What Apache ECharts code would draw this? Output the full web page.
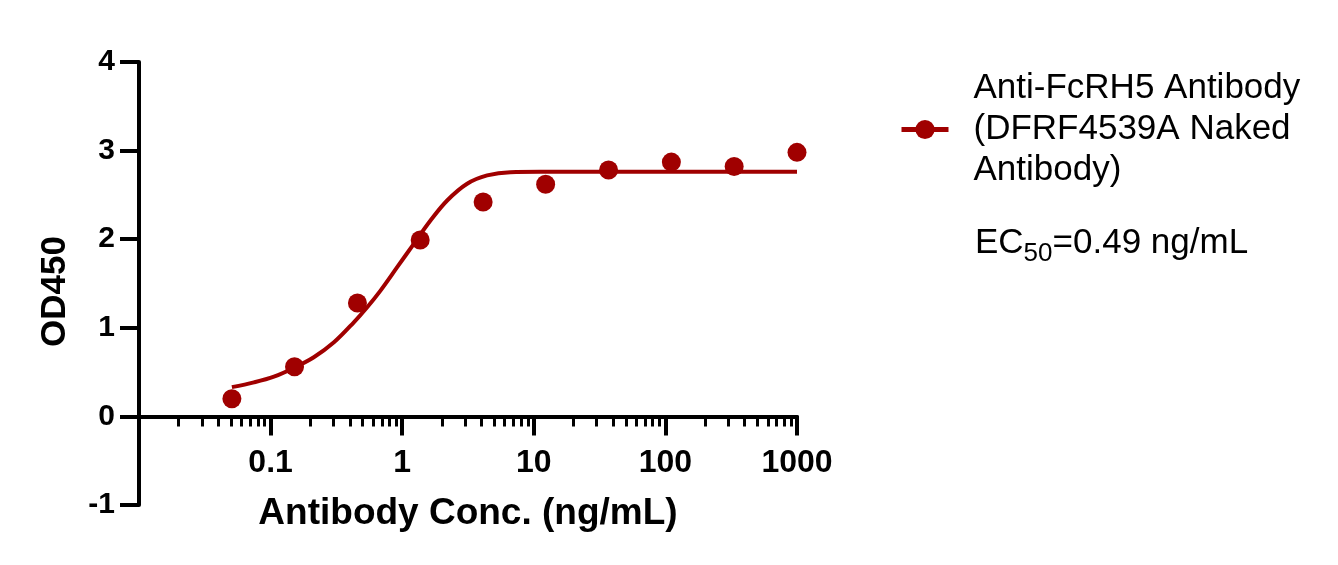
<!DOCTYPE html>
<html><head><meta charset="utf-8">
<script src="https://cdn.jsdelivr.net/npm/echarts@6/dist/echarts.min.js"></script>
<style>html,body{margin:0;padding:0;background:#fff}#c{width:1338px;height:565px}</style>
</head><body><div id="c"></div>
<script>
// measured data points (3-fold dilutions)
const concentrations = [0.0508, 0.152, 0.457, 1.37, 4.12, 12.3, 37.0, 111, 333, 1000];
const od450 = [0.20, 0.56, 1.28, 1.99, 2.42, 2.62, 2.78, 2.87, 2.82, 2.98];
// fitted curve, points
const fitConc = [0.0508, 0.0747, 0.106, 0.150, 0.213, 0.303, 0.429, 0.542, 0.684, 0.916, 1.225, 1.64, 2.196, 3.115, 4.42, 6.64, 11.2, 30, 100, 1000];
const fitOD = [0.33, 0.384, 0.449, 0.547, 0.667, 0.836, 1.062, 1.232, 1.42, 1.684, 1.948, 2.211, 2.437, 2.626, 2.72, 2.757, 2.76, 2.76, 2.76, 2.76];
// axis ticks
const majorTicks = [0.1, 1, 10, 100, 1000];
const minorTicks = [0.02,0.03,0.04,0.05,0.06,0.07,0.08,0.09,
  0.2,0.3,0.4,0.5,0.6,0.7,0.8,0.9, 2,3,4,5,6,7,8,9,
  20,30,40,50,60,70,80,90, 200,300,400,500,600,700,800,900];
const xTickLabels = ['0.1', '1', '10', '100', '1000'];
const legendLines = ['Anti-FcRH5 Antibody', '(DFRF4539A Naked', 'Antibody)'];
const ec50Parts = ['EC', '50', '=0.49 ng/mL'];
const xTitle = 'Antibody Conc. (ng/mL)';
const yTitle = 'OD450';

const RED = '#A00000';
const FONT = 'Liberation Sans';
const seriesName = legendLines.join(' ');

// text measurement for the EC50 annotation (subscript placement)
const mctx = document.createElement('canvas').getContext('2d');
function textW(t, size) { mctx.font = size + 'px "' + FONT + '"'; return mctx.measureText(t).width; }
const ecX = 975, mainSize = 35, subSize = 26;
const w0 = textW(ec50Parts[0], mainSize), w1 = textW(ec50Parts[1], subSize);

const chart = echarts.init(document.getElementById('c'), null, {renderer: 'canvas'});
chart.setOption({
  animation: false,
  backgroundColor: '#fff',
  textStyle: {fontFamily: FONT, color: '#000'},
  grid: {left: 139, right: 541, top: 62, bottom: 60, containLabel: false, outerBoundsMode: 'none'},
  legend: {
    data: [seriesName], left: 899, top: 68, padding: 0,
    itemWidth: 47, itemHeight: 24, selectedMode: false,
    lineStyle: {width: 5, color: RED},
    formatter: () => legendLines.join('\n'),
    textStyle: {fontFamily: FONT, fontSize: 35, lineHeight: 41, color: '#000', padding: [0, 0, 0, 20]}
  },
  graphic: [
    {type: 'text', x: ecX, y: 243, style: {text: ec50Parts[0], fontFamily: FONT, fontSize: mainSize, fill: '#000', align: 'left', verticalAlign: 'middle'}},
    {type: 'text', x: ecX + w0, y: 254, style: {text: ec50Parts[1], fontFamily: FONT, fontSize: subSize, fill: '#000', align: 'left', verticalAlign: 'middle'}},
    {type: 'text', x: ecX + w0 + w1, y: 243, style: {text: ec50Parts[2], fontFamily: FONT, fontSize: mainSize, fill: '#000', align: 'left', verticalAlign: 'middle'}}
  ],
  xAxis: [{
    type: 'log', logBase: 10, min: 0.01, max: 1000, position: 'bottom',
    axisLine: {show: true, onZero: true, onZeroAxisIndex: 0, lineStyle: {color: '#000', width: 4}},
    axisTick: {show: true, length: 19, customValues: majorTicks, lineStyle: {color: '#000', width: 4}},
    axisLabel: {
      customValues: majorTicks,
      formatter: v => { const i = majorTicks.findIndex(t => Math.abs(Math.log10(t) - Math.log10(v)) < 1e-6); return i >= 0 ? xTickLabels[i] : ''; },
      fontFamily: FONT, fontSize: 32, fontWeight: 'bold', color: '#000', margin: -58
    },
    splitLine: {show: false}, minorTick: {show: false},
    name: xTitle, nameLocation: 'middle', nameGap: -10,
    nameTextStyle: {fontFamily: FONT, fontSize: 37, fontWeight: 'bold', color: '#000'}
  }, {
    type: 'log', logBase: 10, min: 0.01, max: 1000, position: 'bottom',
    axisLine: {show: true, onZero: true, onZeroAxisIndex: 0, lineStyle: {color: '#000', width: 4}},
    axisTick: {show: true, length: 10, customValues: minorTicks, lineStyle: {color: '#000', width: 3}},
    axisLabel: {show: false}, splitLine: {show: false}
  }],
  yAxis: {
    type: 'value', min: -1, max: 4, interval: 1,
    axisLine: {show: true, onZero: false, lineStyle: {color: '#000', width: 4}},
    axisTick: {show: true, length: 19, lineStyle: {color: '#000', width: 4}},
    axisLabel: {fontFamily: FONT, fontSize: 30, fontWeight: 'bold', color: '#000', margin: 24},
    splitLine: {show: false},
    name: yTitle, nameLocation: 'middle', nameGap: 66,
    nameTextStyle: {fontFamily: FONT, fontSize: 35, fontWeight: 'bold', color: '#000', padding: [0, 16, 0, 0]}
  },
  series: [{
    name: seriesName, type: 'line', xAxisIndex: 0,
    data: fitConc.map((c, i) => [c, fitOD[i]]),
    smooth: 0.35,
    symbol: 'circle', showSymbol: false,
    lineStyle: {color: RED, width: 4}, itemStyle: {color: RED},
    z: 2
  }, {
    name: 'points', type: 'scatter', xAxisIndex: 0,
    data: concentrations.map((c, i) => [c, od450[i]]),
    symbol: 'circle', symbolSize: 19,
    itemStyle: {color: RED, opacity: 1},
    z: 3
  }]
});
</script>
</body></html>
